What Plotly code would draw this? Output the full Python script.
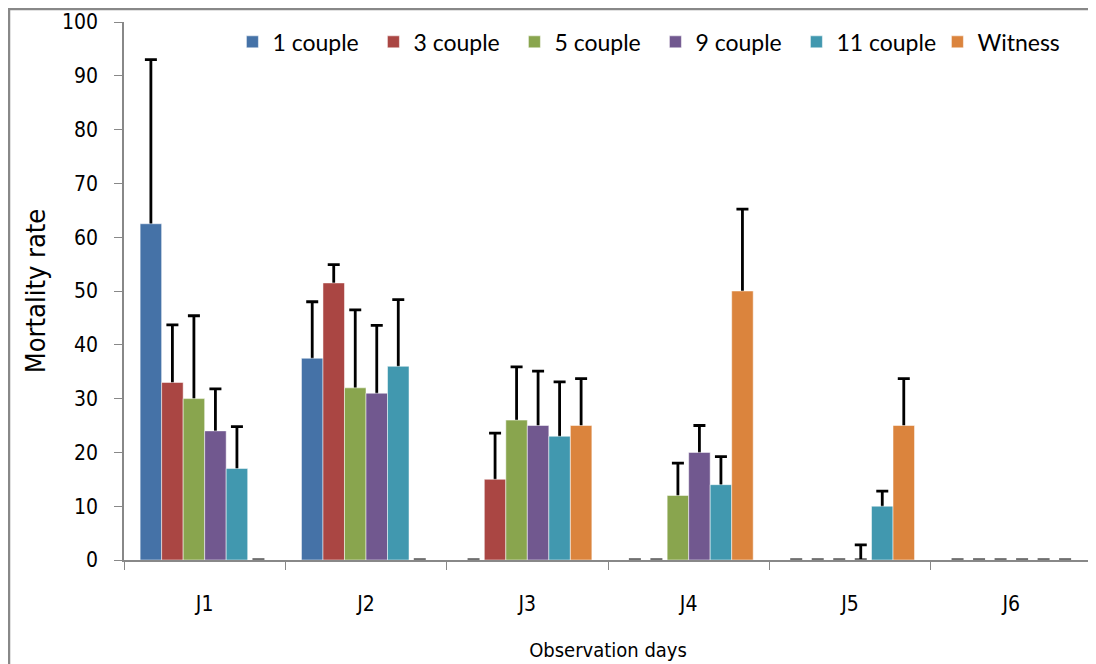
import plotly.graph_objects as go

categories = ["J1", "J2", "J3", "J4", "J5", "J6"]
series_names = ["1 couple", "3 couple", "5 couple", "9 couple", "11 couple", "Witness"]

couple1 = [62.5, 37.5, 0, 0, 0, 0]
couple3 = [33, 51.5, 15, 0, 0, 0]
couple5 = [30, 32, 26, 12, 0, 0]
couple9 = [24, 31, 25, 20, 0, 0]
couple11 = [17, 36, 23, 14, 10, 0]
witness = [0, 0, 25, 50, 25, 0]

err1 = [30.5, 10.5, None, None, None, None]
err3 = [10.7, 3.4, 8.6, None, None, None]
err5 = [15.4, 14.5, 9.9, 6, None, None]
err9 = [7.8, 12.6, 10.1, 5, 2.8, None]
err11 = [7.8, 12.4, 10.1, 5.2, 2.8, None]
errw = [None, None, 8.7, 15.2, 8.7, None]

values = [couple1, couple3, couple5, couple9, couple11, witness]
errors = [err1, err3, err5, err9, err11, errw]
colors = ["#4572A7", "#AA4643", "#89A54E", "#71588F", "#4198AF", "#DB843D"]

fig = go.Figure()
# error bars first (drawn underneath the coloured bars so the lower cap is hidden)
for i, (name, vals, errs) in enumerate(zip(series_names, values, errors)):
    hidden_shoe = [0.6 if (e is not None and v > 0) else 0 for e, v in zip(errs, vals)]
    fig.add_trace(go.Bar(
        x=categories, y=vals, name=name, offsetgroup=str(i),
        showlegend=False, hoverinfo="skip",
        marker=dict(color="rgba(0,0,0,0)", line=dict(width=0)),
        error_y=dict(type="data", array=errs, symmetric=False,
                     arrayminus=hidden_shoe,
                     color="black", thickness=2.8, width=6),
    ))
for i, (name, vals, col) in enumerate(zip(series_names, values, colors)):
    fig.add_trace(go.Bar(
        x=categories, y=vals, name=name, offsetgroup=str(i),
        marker=dict(color=col, line=dict(color="rgba(255,255,255,0.5)", width=1)),
    ))

tick_font = "Liberation Sans Narrow, DejaVu Sans Condensed, Lato, sans-serif"

# page body has an 8px offset; margins compensate so the plot area sits where the reference has it
L, R, T, B = 116, 12, 14, 112
PW, PH = 1096 - L - R, 664 - T - B

fig.update_layout(
    width=1096, height=664,
    margin=dict(l=L, r=R, t=T, b=B),
    paper_bgcolor="white", plot_bgcolor="white",
    barmode="group", bargap=0.2, bargroupgap=0,
    showlegend=True,
    legend=dict(orientation="h", x=0.112, y=1.003, xanchor="left", yanchor="top",
                font=dict(family="Lato, Open Sans, sans-serif", size=23, color="black"),
                entrywidth=96, entrywidthmode="pixels",
                traceorder="normal", bgcolor="rgba(0,0,0,0)"),
    xaxis=dict(
        type="category", tickson="boundaries", ticks="outside", ticklen=8,
        tickcolor="#888888", showline=True, linecolor="#888888", linewidth=1.5,
        showgrid=False, range=[-0.5, 5.5], automargin=False, ticklabelstandoff=24,
        tickfont=dict(family=tick_font, size=21, color="black"),
        title=dict(text="Observation days", font=dict(family=tick_font, size=20, color="black"), standoff=28),
    ),
    yaxis=dict(
        range=[0, 100], dtick=10, ticks="outside", ticklen=8,
        tickcolor="#888888", showline=True, linecolor="#888888", linewidth=1.5,
        showgrid=False, zeroline=False, automargin=False, ticklabelstandoff=12,
        tickfont=dict(family=tick_font, size=21, color="black"),
        title=dict(text="Mortality rate", font=dict(family=tick_font, size=27, color="black"), standoff=9),
    ),
    shapes=[dict(type="rect", xref="paper", yref="paper",
                 x0=(1 - L) / PW, x1=(1110 - L) / PW,
                 y0=(PH + T - 700) / PH, y1=(PH + T - 1) / PH,
                 line=dict(color="#888888", width=2.5), fillcolor="rgba(0,0,0,0)", layer="below")],
)

fig.write_html("out.html")
